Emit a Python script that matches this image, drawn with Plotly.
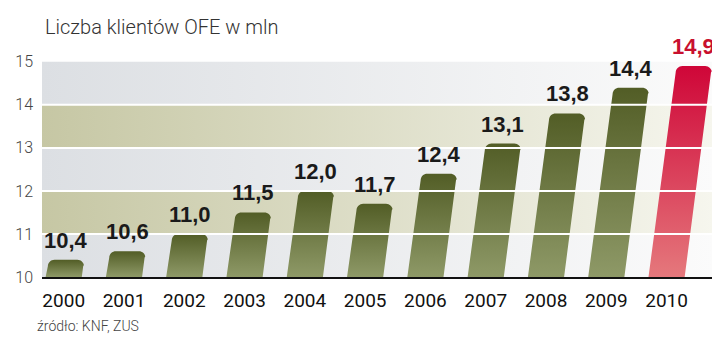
import math
import plotly.graph_objects as go

# ---- data ----
years = ["2000", "2001", "2002", "2003", "2004", "2005", "2006", "2007", "2008", "2009", "2010"]
values = [10.4, 10.6, 11.0, 11.5, 12.0, 11.7, 12.4, 13.1, 13.8, 14.4, 14.9]
value_labels = ["10,4", "10,6", "11,0", "11,5", "12,0", "11,7", "12,4", "13,1", "13,8", "14,4", "14,9"]
y_ticks = [10, 11, 12, 13, 14, 15]
highlight_index = 10

title_text = "Liczba klientów OFE w mln"
source_text = "źródło: KNF, ZUS"

# ---- geometry / style ----
BASE = 10
X_MIN, X_MAX = -0.36, 10.77
Y_MAX = 15.6
HALF_W = 0.30          # half bar width (category units)
SLANT = 0.092          # horizontal shift per y unit
RX, RY = 0.11, 0.15    # corner radius in data units

# page has an 8px body margin; the figure is sized/offset to compensate
FIG_W, FIG_H = 712, 347

GREEN_SCALE = [[0, "#8e9967"], [1, "#525d26"]]
RED_SCALE = [[0, "#e5787c"], [1, "#cf0638"]]
BAND_GRAY = [[0, "#dcdfe3"], [1, "#fbfbfb"]]
BAND_KHAKI = [[0, "#c6c7a4"], [1, "#f6f6ee"]]


def bar_path(i, v):
    xl0, xr0 = i - HALF_W, i + HALF_W
    s_top = SLANT * (v - BASE)
    xs, ys = [xl0, xr0], [BASE, BASE]
    yc = v - RY
    xs.append(xr0 + SLANT * (yc - BASE)); ys.append(yc)
    cx_r = xr0 + s_top - RX
    for k in range(1, 9):
        t = math.pi / 2 * k / 8
        xs.append(cx_r + RX * math.cos(t))
        ys.append(yc + RY * math.sin(t))
    cx_l = xl0 + s_top + RX
    for k in range(0, 9):
        t = math.pi / 2 + math.pi / 2 * k / 8
        xs.append(cx_l + RX * math.cos(t))
        ys.append(yc + RY * math.sin(t))
    xs.append(xl0); ys.append(BASE)
    return xs, ys


fig = go.Figure()

# background bands
for j in range(len(y_ticks) - 1):
    y0, y1 = y_ticks[j], y_ticks[j + 1]
    fig.add_trace(go.Scatter(
        x=[X_MIN, X_MAX, X_MAX, X_MIN, X_MIN], y=[y0, y0, y1, y1, y0],
        mode="none", fill="toself",
        fillgradient=dict(type="horizontal", colorscale=BAND_KHAKI if j % 2 == 1 else BAND_GRAY),
        hoverinfo="skip", showlegend=False))

# bars
for i, v in enumerate(values):
    xs, ys = bar_path(i, v)
    fig.add_trace(go.Scatter(
        x=xs, y=ys, mode="none", fill="toself",
        fillgradient=dict(type="vertical", colorscale=RED_SCALE if i == highlight_index else GREEN_SCALE),
        hoverinfo="skip", showlegend=False))

# value labels
for i, (v, lab) in enumerate(zip(values, value_labels)):
    fig.add_annotation(
        x=i + SLANT * (v - BASE), y=v, text=lab, showarrow=False,
        xanchor="center", yanchor="bottom", yshift=5,
        font=dict(family="Liberation Sans, Arial, sans-serif", size=22, weight=700,
                  color="#c8102e" if i == highlight_index else "#1a1a1a"))

# white gridlines over everything
for t in y_ticks[1:-1]:
    fig.add_shape(type="line", xref="x domain", yref="y", x0=0, x1=1, y0=t, y1=t,
                  line=dict(color="white", width=2), layer="above")

fig.add_annotation(
    xref="paper", yref="paper", x=-0.0103, y=-0.205, text=source_text, showarrow=False,
    xanchor="left", yanchor="middle",
    font=dict(family="Roboto, sans-serif", size=14, weight=300, color="#444"))

fig.update_layout(
    width=FIG_W, height=FIG_H,
    margin=dict(l=27, r=7, t=28, b=78),
    paper_bgcolor="white", plot_bgcolor="white",
    title=dict(text=title_text, x=37 / FIG_W, xanchor="left", xref="container",
               y=1 - 19 / FIG_H, yanchor="middle", yref="container",
               font=dict(family="Roboto, sans-serif", size=20, weight=300, color="#333")),
    xaxis=dict(range=[X_MIN, X_MAX], tickvals=list(range(len(years))), ticktext=years,
               showgrid=False, zeroline=False, showline=True, linecolor="#111", linewidth=2,
               ticks="", ticklabelstandoff=5,
               tickfont=dict(family="Roboto, sans-serif", size=19, weight=400, color="#111")),
    yaxis=dict(range=[BASE, Y_MAX], tickvals=y_ticks, ticktext=[str(t) for t in y_ticks],
               showgrid=False, zeroline=False, showline=False, ticks="", ticklabelstandoff=8,
               tickfont=dict(family="Roboto, sans-serif", size=16, weight=300, color="#444")),
)

fig.write_html("out.html")
